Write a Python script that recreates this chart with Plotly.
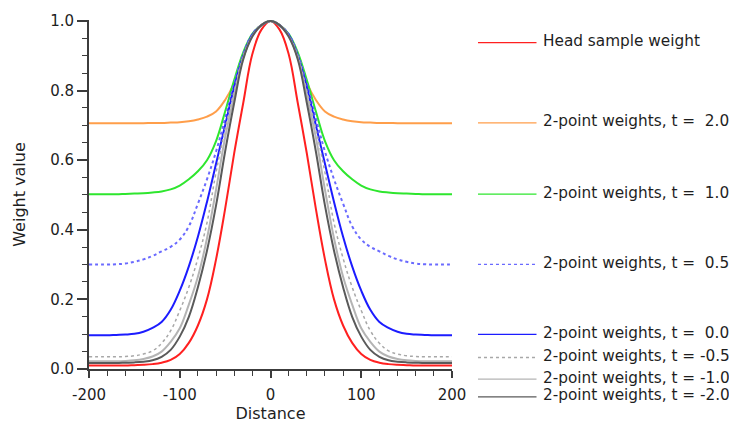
import plotly.graph_objects as go

# Distance samples for one side of the kernel (curves are symmetric about 0)
dist_half = [0, 10, 20, 30, 40, 50, 60, 70, 80, 90, 100,
             110, 120, 130, 140, 150, 160, 170, 180, 190, 200]

head_weight = [1.0, 0.975, 0.905, 0.765, 0.62, 0.46, 0.315, 0.2, 0.125, 0.075, 0.043,
               0.026, 0.018, 0.014, 0.012, 0.011, 0.01, 0.01, 0.01, 0.01, 0.01]
w_t_p20 = [1.0, 0.988, 0.96, 0.895, 0.822, 0.773, 0.740, 0.725, 0.717, 0.712, 0.709,
           0.708, 0.707, 0.707, 0.706, 0.706, 0.706, 0.706, 0.706, 0.706, 0.706]
w_t_p10 = [1.0, 0.988, 0.963, 0.91, 0.83, 0.74, 0.655, 0.600, 0.568, 0.545, 0.527,
           0.516, 0.51, 0.507, 0.505, 0.504, 0.503, 0.502, 0.502, 0.502, 0.502]
w_t_p05 = [1.0, 0.988, 0.962, 0.905, 0.82, 0.72, 0.625, 0.545, 0.475, 0.41, 0.372,
           0.351, 0.338, 0.325, 0.315, 0.308, 0.303, 0.301, 0.3, 0.3, 0.3]
w_t_p00 = [1.0, 0.988, 0.96, 0.9, 0.81, 0.70, 0.59, 0.48, 0.38, 0.295, 0.225,
           0.17, 0.135, 0.118, 0.107, 0.101, 0.099, 0.098, 0.097, 0.097, 0.097]
w_t_m05 = [1.0, 0.988, 0.958, 0.9, 0.80, 0.69, 0.565, 0.42, 0.318, 0.235, 0.168,
           0.11, 0.074, 0.052, 0.043, 0.038, 0.036, 0.035, 0.035, 0.035, 0.035]
w_t_m10 = [1.0, 0.988, 0.957, 0.895, 0.785, 0.665, 0.515, 0.375, 0.265, 0.185, 0.117,
           0.078, 0.05, 0.036, 0.029, 0.025, 0.023, 0.022, 0.022, 0.022, 0.022]
w_t_m20 = [1.0, 0.988, 0.955, 0.89, 0.765, 0.625, 0.47, 0.34, 0.235, 0.15, 0.093,
           0.055, 0.035, 0.025, 0.021, 0.019, 0.018, 0.017, 0.017, 0.017, 0.017]

series_names = ["Head sample weight",
                "2-point weights, t =  2.0",
                "2-point weights, t =  1.0",
                "2-point weights, t =  0.5",
                "2-point weights, t =  0.0",
                "2-point weights, t = -0.5",
                "2-point weights, t = -1.0",
                "2-point weights, t = -2.0"]
series_values = [head_weight, w_t_p20, w_t_p10, w_t_p05,
                 w_t_p00, w_t_m05, w_t_m10, w_t_m20]
series_colors = ["#ff2020", "#ff9e4a", "#2ee62e", "#6a6aff",
                 "#1c1cff", "#a8a8a8", "#b4b4b4", "#5a5a5a"]
series_dash = ["solid", "solid", "solid", "dot", "solid", "dot", "solid", "solid"]
series_width = [2, 2, 2, 2, 2, 1.5, 2, 2]

# Manual legend rows (paper y) beside the plot
legend_rows_y = [0.935, 0.705, 0.501, 0.2995, 0.099, 0.033, -0.029, -0.080]


def mirror(xs, ys):
    """Expand a one-sided profile to the full symmetric curve."""
    x_full = [-v for v in reversed(xs[1:])] + list(xs)
    y_full = list(reversed(ys[1:])) + list(ys)
    return x_full, y_full


fig = go.Figure()

for name, vals, col, dash, w in zip(series_names, series_values, series_colors,
                                    series_dash, series_width):
    xf, yf = mirror(dist_half, vals)
    fig.add_trace(go.Scatter(
        x=xf, y=yf, mode="lines", name=name,
        line=dict(color=col, width=w, dash=dash, shape="spline", smoothing=1.1),
        showlegend=False, hoverinfo="skip"))

axis_col = "#3c3c3c"
font_fam = "DejaVu Sans, Verdana, sans-serif"

shapes = []
annotations = []
for name, col, dash, ly in zip(series_names, series_colors, series_dash, legend_rows_y):
    shapes.append(dict(type="line", xref="paper", yref="paper",
                       x0=1.0716, x1=1.2328, y0=ly, y1=ly,
                       line=dict(color=col, width=1.3, dash=dash)))
    annotations.append(dict(xref="paper", yref="paper", x=1.2452, y=ly,
                            xanchor="left", yanchor="middle", yshift=1.5,
                            text=name.replace("  ", " \u00a0"), showarrow=False,
                            font=dict(family=font_fam, size=15.3, color="#1e1e1e")))

fig.update_layout(
    width=729, height=431,
    margin=dict(l=89, r=277, t=15, b=52),
    paper_bgcolor="white", plot_bgcolor="white",
    font=dict(family=font_fam, size=15, color="#1e1e1e"),
    showlegend=False,
    shapes=shapes,
    annotations=annotations,
)

fig.update_xaxes(
    range=[-200, 200],
    tickvals=[-200, -100, 0, 100, 200],
    ticktext=["-200", "-100", "0", "100", "200"],
    ticks="outside", ticklen=7, tickwidth=1.5, tickcolor=axis_col,
    ticklabelstandoff=4,
    minor=dict(dtick=20, ticks="outside", ticklen=5, tickwidth=1.2, tickcolor=axis_col),
    showline=True, linewidth=2, linecolor=axis_col,
    showgrid=False, zeroline=False,
    tickfont=dict(size=15, color="#1e1e1e"),
    title=dict(text="Distance", font=dict(size=16, color="#1e1e1e"), standoff=4),
)
fig.update_yaxes(
    range=[0, 1.00275],
    tickvals=[0, 0.2, 0.4, 0.6, 0.8, 1.0],
    ticktext=["0.0", "0.2", "0.4", "0.6", "0.8", "1.0"],
    ticks="outside", ticklen=10, tickwidth=1.5, tickcolor=axis_col,
    minor=dict(dtick=0.05, ticks="outside", ticklen=5, tickwidth=1.2, tickcolor=axis_col),
    showline=True, linewidth=2, linecolor=axis_col,
    showgrid=False, zeroline=False,
    tickfont=dict(size=15, color="#1e1e1e"),
    title=dict(text="Weight value", font=dict(size=16, color="#1e1e1e"), standoff=21),
)

fig.write_html("out.html", config={"displayModeBar": False})
